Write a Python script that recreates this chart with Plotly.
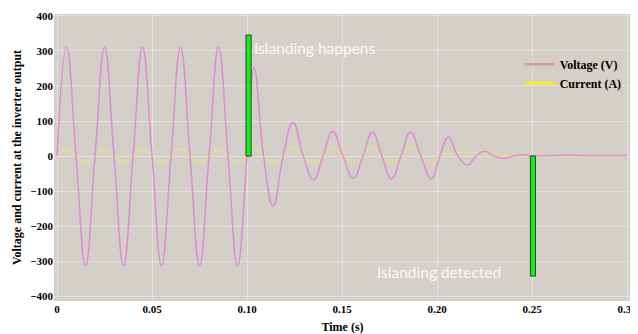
import plotly.graph_objects as go

# ---- data ----
volt_time = [0, 0.005, 0.01, 0.015, 0.02, 0.025, 0.03, 0.035, 0.04, 0.045, 0.05,
             0.055, 0.06, 0.065, 0.07, 0.075, 0.08, 0.085, 0.09, 0.095, 0.1,
             0.1037, 0.1087, 0.1137, 0.119, 0.1242, 0.1296, 0.135, 0.140, 0.145,
             0.1505, 0.156, 0.161, 0.166, 0.171, 0.176, 0.181, 0.186, 0.1915,
             0.197, 0.2015, 0.206, 0.211, 0.216, 0.2205, 0.225, 0.230, 0.235,
             0.240, 0.245, 0.25, 0.26, 0.28, 0.30]
voltage = [0, 310, 0, -312, 0, 310, 0, -312, 0, 310, 0,
           -312, 0, 310, 0, -312, 0, 310, 0, -312, 0,
           252, 0, -142, 0, 95, 0, -68, 0, 70,
           0, -63, 0, 68, 0, -65, 0, 68, 0,
           -65, 0, 54, 0, -26, 0, 14, 0, -6,
           0, 4, 1, 2, 2, 2]

curr_time = [0, 0.005, 0.01, 0.015, 0.02, 0.025, 0.03, 0.035, 0.04, 0.045, 0.05,
             0.055, 0.06, 0.065, 0.07, 0.075, 0.08, 0.085, 0.09, 0.095, 0.1,
             0.1037, 0.1087, 0.1137, 0.119, 0.1242, 0.1296, 0.135, 0.140, 0.145,
             0.1505, 0.156, 0.161, 0.166, 0.171, 0.176, 0.181, 0.186, 0.1915,
             0.197, 0.2015, 0.25, 0.30]
current = [0, 21, 0, -20, 0, 21, 0, -20, 0, 21, 0,
           -20, 0, 21, 0, -20, 0, 21, 0, -20, 0,
           23, 0, -20, 0, 23, 0, -20, 0, 23,
           0, -20, 0, 25, 0, -21, 0, 25, 0,
           -27, 0, 0, 0]

event_time = [0.1008, 0.2505]
event_level = [345, -342]
event_labels = ["Islanding happens", "Islanding detected"]

x_ticks = [0, 0.05, 0.10, 0.15, 0.20, 0.25, 0.30]
x_tick_text = ["0", "0.05", "0.10", "0.15", "0.20", "0.25", "0.30"]
y_ticks = [400, 300, 200, 100, 0, -100, -200, -300, -400]

serif = "Liberation Serif"
VCOL = "#de8cd6"
CCOL = "#e6df86"

fig = go.Figure()

fig.add_trace(go.Scatter(x=curr_time, y=current, mode="lines", name="Current (A)",
                         line=dict(color=CCOL, width=1.4, shape="spline", smoothing=1.3),
                         showlegend=False))
fig.add_trace(go.Scatter(x=volt_time, y=voltage, mode="lines", name="Voltage (V)",
                         line=dict(color=VCOL, width=1.5, shape="spline", smoothing=1.3),
                         showlegend=False))

# legend-only entries (swatch colours as in the reference legend)
fig.add_trace(go.Scatter(x=[None], y=[None], mode="lines", name="Voltage (V)",
                         line=dict(color="#d99a9c", width=2.5), legendrank=1))
fig.add_trace(go.Scatter(x=[None], y=[None], mode="lines", name="Current (A)",
                         line=dict(color="#f2f020", width=3), legendrank=2))

# green event markers (drawn on an overlaying axis so they sit above the lines)
fig.add_trace(go.Bar(x=event_time, y=event_level, base=0, width=0.0027,
                     xaxis="x2", yaxis="y",
                     marker=dict(color="#1fe81f", line=dict(color="#1d4d1d", width=1)),
                     showlegend=False, hoverinfo="skip"))

x_range = [-0.0016, 0.3021]
y_range = [-413, 405]

# the page body adds an 8px offset, so the figure is sized to fit the window
fig.update_layout(
    width=630, height=326,
    margin=dict(l=46, r=7, t=6, b=33),
    paper_bgcolor="white",
    plot_bgcolor="#d4d0c9",
    showlegend=True,
    legend=dict(x=0.807, y=0.792, xanchor="left", yanchor="middle",
                bgcolor="rgba(0,0,0,0)", itemwidth=30,
                font=dict(family=serif, size=12, color="black", weight="bold"),
                tracegroupgap=0),
    xaxis=dict(range=x_range, tickvals=x_ticks, ticktext=x_tick_text,
               automargin=False,
               showgrid=True, gridcolor="rgba(255,255,255,0.35)", gridwidth=1,
               zeroline=False, showline=False, ticks="",
               tickfont=dict(family=serif, size=11, color="black", weight="bold"),
               title=dict(text="Time (s)", standoff=8,
                          font=dict(family=serif, size=12, color="black", weight="bold"))),
    xaxis2=dict(range=x_range, overlaying="x", visible=False, automargin=False),
    yaxis=dict(range=y_range, tickvals=y_ticks, automargin=False,
               showgrid=True, gridcolor="rgba(255,255,255,0.35)", gridwidth=1,
               zeroline=False, showline=False, ticks="",
               tickfont=dict(family=serif, size=11, color="black", weight="bold"),
               title=dict(text="Voltage and current at the inverter output", standoff=6,
                          font=dict(family=serif, size=12, color="black", weight="bold"))),
    annotations=[
        dict(x=0.1026, y=308, xref="x", yref="y", text=event_labels[0], showarrow=False,
             xanchor="left", yanchor="middle",
             font=dict(family="Lato", size=15.5, color="rgba(255,255,255,0.9)")),
        dict(x=0.1674, y=-330, xref="x", yref="y", text=event_labels[1], showarrow=False,
             xanchor="left", yanchor="middle",
             font=dict(family="Lato", size=15.5, color="rgba(255,255,255,0.9)")),
    ],
)

fig.write_html("out.html")
